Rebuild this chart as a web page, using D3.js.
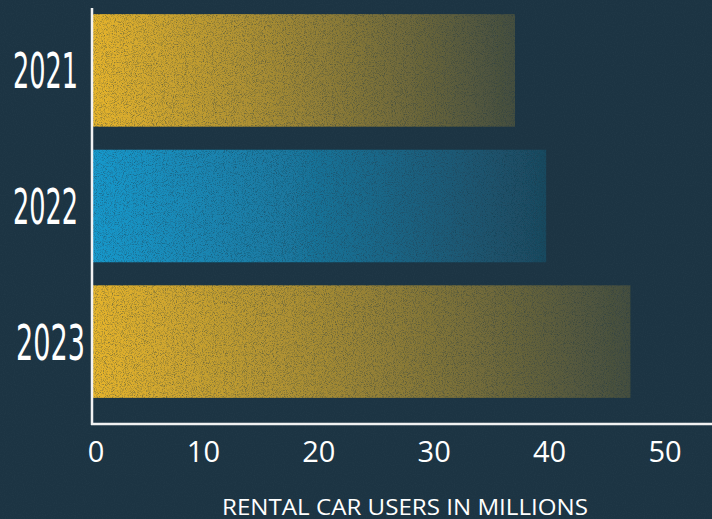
<!DOCTYPE html>
<html>
<head>
<meta charset="utf-8">
<script src="https://cdn.jsdelivr.net/npm/d3@7"></script>
<style>
  html, body { margin: 0; padding: 0; background: #1b3343; }
  svg { display: block; }
</style>
</head>
<body>
<div id="chart"></div>
<script>
// chart values
var years = ["2021", "2022", "2023"];
var users = [37, 39.7, 47];      // millions
var barColors = ["#e6b42c", "#1899cc", "#e6b42c"];
var xTicks = [0, 10, 20, 30, 40, 50];
var xTitle = "RENTAL CAR USERS IN MILLIONS";

var W = 712, H = 519;
var axisX = 92, axisY = 424;

var svg = d3.select("#chart").append("svg")
	.attr("width", W).attr("height", H);

var defs = svg.append("defs");

// grain: multiply alpha of each bar by a noise field
var f = defs.append("filter").attr("id", "grain")
	.attr("x", 0).attr("y", 0).attr("width", 1).attr("height", 1);
f.append("feTurbulence").attr("type", "fractalNoise")
	.attr("baseFrequency", 1.1).attr("numOctaves", 2).attr("seed", 4).attr("result", "n");
f.append("feColorMatrix").attr("in", "n").attr("type", "matrix")
	.attr("values", "0 0 0 0 1  0 0 0 0 1  0 0 0 0 1  1.3 0 0 0 0.3").attr("result", "na");
f.append("feComposite").attr("in", "SourceGraphic").attr("in2", "na").attr("operator", "in");

var bgf = defs.append("filter").attr("id", "bggrain")
	.attr("x", 0).attr("y", 0).attr("width", 1).attr("height", 1);
bgf.append("feTurbulence").attr("type", "fractalNoise")
	.attr("baseFrequency", 0.9).attr("numOctaves", 1).attr("seed", 9).attr("result", "n");
bgf.append("feColorMatrix").attr("in", "n").attr("type", "matrix")
	.attr("values", "0 0 0 0 0.3  0 0 0 0 0.4  0 0 0 0 0.45  0 0 0 -1.2 0.7");

// background
svg.append("rect").attr("width", W).attr("height", H).attr("fill", "#1c3443");
svg.append("rect").attr("width", W).attr("height", H).attr("fill", "#000")
	.attr("filter", "url(#bggrain)").attr("opacity", 0.08);

// per-bar gradients
years.forEach(function(y, i){
	var g = defs.append("linearGradient").attr("id", "grad" + i)
		.attr("x1", 0).attr("x2", 1).attr("y1", 0).attr("y2", 0);
	g.append("stop").attr("offset", "0%").attr("stop-color", barColors[i]).attr("stop-opacity", 1);
	g.append("stop").attr("offset", "40%").attr("stop-color", barColors[i]).attr("stop-opacity", 0.7);
	g.append("stop").attr("offset", "100%").attr("stop-color", barColors[i]).attr("stop-opacity", 0.2);
});

var x = d3.scaleLinear().domain([0, 50]).range([88, 665]);
var y = d3.scaleBand().domain(years).range([6, 406])
	.paddingInner(0.17).paddingOuter(0.06);

// bars
svg.append("g").selectAll("rect").data(years).enter().append("rect")
	.attr("x", axisX + 1)
	.attr("y", function(d){ return y(d); })
	.attr("width", function(d, i){ return x(users[i]) - axisX - 1; })
	.attr("height", y.bandwidth())
	.attr("fill", function(d, i){ return "url(#grad" + i + ")"; })
	.attr("filter", "url(#grain)");

// axis lines
svg.append("line").attr("x1", axisX).attr("x2", axisX).attr("y1", 8).attr("y2", axisY + 1)
	.attr("stroke", "#f2f2f2").attr("stroke-width", 2.5);
svg.append("line").attr("x1", axisX - 1).attr("x2", W).attr("y1", axisY).attr("y2", axisY)
	.attr("stroke", "#f2f2f2").attr("stroke-width", 2.5);

// year labels (condensed face squeezed to the reference width)
svg.append("g").selectAll("text").data(years).enter().append("text")
	.attr("x", function(d, i){ return i === 2 ? 16 : 13; })
	.attr("y", function(d){ return y(d) + y.bandwidth() / 2 + 18; })
	.attr("textLength", function(d, i){ return i === 2 ? 69 : 65; })
	.attr("lengthAdjust", "spacingAndGlyphs")
	.attr("fill", "#ffffff")
	.style("font-family", "'Liberation Sans Narrow', 'DejaVu Sans Condensed', sans-serif")
	.style("font-size", "50px")
	.text(function(d){ return d; });

// x tick labels
svg.append("g").selectAll("text").data(xTicks).enter().append("text")
	.attr("x", function(d){ return x(d) + (d === 0 ? 8 : 0); })
	.attr("y", 462)
	.attr("text-anchor", "middle")
	.attr("fill", "#ffffff")
	.style("font-family", "'Open Sans', sans-serif")
	.style("font-size", "29px")
	.text(function(d){ return d; });

svg.append("text")
	.attr("x", 405).attr("y", 515)
	.attr("text-anchor", "middle")
	.attr("fill", "#ffffff")
	.style("font-family", "'Open Sans', sans-serif")
	.style("font-size", "21px")
	.attr("textLength", 366)
	.attr("lengthAdjust", "spacingAndGlyphs")
	.text(xTitle);
</script>
</body>
</html>
